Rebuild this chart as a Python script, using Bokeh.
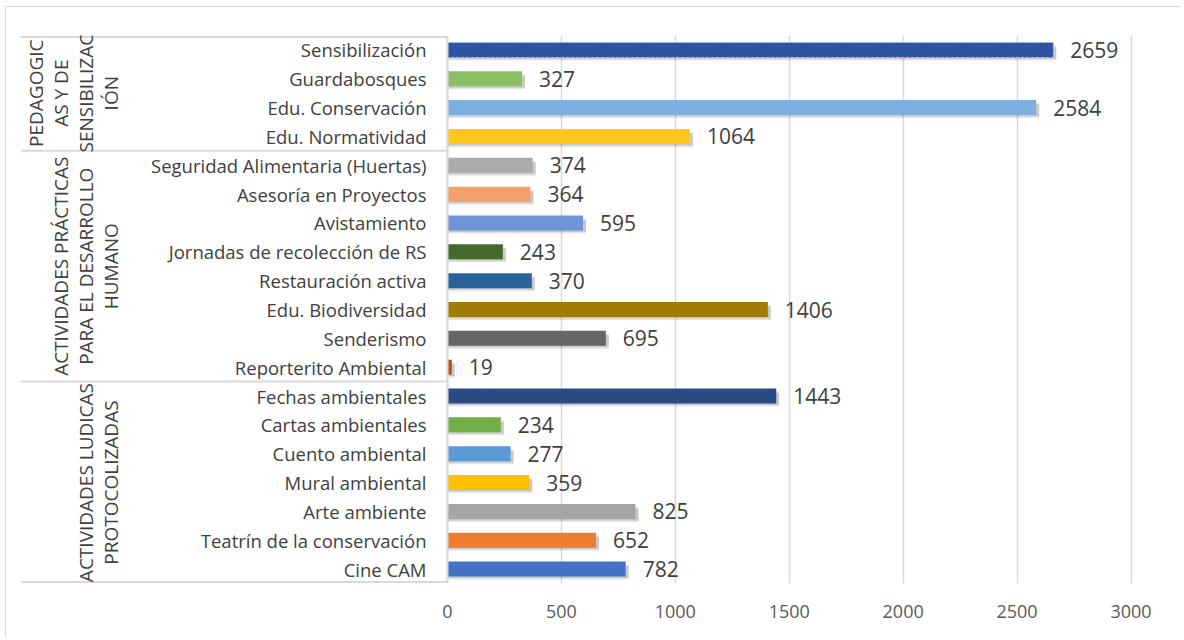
from bokeh.plotting import figure
from bokeh.models import Range1d, FixedTicker, ColumnDataSource, PrintfTickFormatter
from bokeh.core.properties import value
from bokeh.embed import file_html
from bokeh.resources import INLINE
import math

# ---- data (top to bottom) ----
categories = [
    "Sensibilización", "Guardabosques", "Edu. Conservación", "Edu. Normatividad",
    "Seguridad Alimentaria (Huertas)", "Asesoría en Proyectos", "Avistamiento",
    "Jornadas de recolección de RS", "Restauración activa", "Edu. Biodiversidad",
    "Senderismo", "Reporterito Ambiental",
    "Fechas ambientales", "Cartas ambientales", "Cuento ambiental", "Mural ambiental",
    "Arte ambiente", "Teatrín de la conservación", "Cine CAM",
]
values = [2659, 327, 2584, 1064, 374, 364, 595, 243, 370, 1406, 695, 19,
          1443, 234, 277, 359, 825, 652, 782]
colors = ["#2E54A1", "#8BC066", "#7DB0E0", "#FFC61E", "#ABABAB", "#F4A06B", "#6F94D8",
          "#446A2C", "#2A629A", "#A07B08", "#666666", "#B9501A",
          "#2A4A85", "#72AE48", "#5B9BD5", "#FFC000", "#A5A5A5", "#ED7D31", "#4472C4"]
groups = [
    "PEDAGOGIC\nAS Y DE\nSENSIBILIZAC\nIÓN",
    "ACTIVIDADES PRÁCTICAS\nPARA EL DESARROLLO\nHUMANO",
    "ACTIVIDADES LUDICAS\nPROTOCOLIZADAS",
]
group_sizes = [4, 8, 7]
x_ticks = [0, 500, 1000, 1500, 2000, 2500, 3000]

# ---- layout helpers ----
n = len(categories)
rows = [n - 1 - i for i in range(n)]          # top row has highest y
px = 683.5 / 3000.0                            # pixels per unit
x_start = -427 / px
x_end = 735 / px

FONT = value("Open Sans")
TXT = "#404040"
GRID = "#D9D9D9"

p = figure(width=1176, height=632, output_backend="svg", toolbar_location=None,
           x_range=Range1d(x_start, x_end), y_range=Range1d(-0.5, n - 0.5),
           y_axis_type=None, min_border_left=14, min_border_right=0,
           min_border_top=28, min_border_bottom=56)
p.outline_line_color = None
p.background_fill_color = "white"
p.border_fill_color = "white"
p.styles = {"border-left": "1px solid #D9D9D9", "border-top": "1px solid #D9D9D9",
            "margin-left": "5px", "margin-top": "6px"}

# x axis
p.xaxis.ticker = FixedTicker(ticks=x_ticks)
p.xaxis.formatter = PrintfTickFormatter(format="%d")
p.xaxis.axis_line_color = None
p.xaxis.major_tick_line_color = None
p.xaxis.minor_tick_line_color = None
p.xaxis.major_tick_in = 0
p.xaxis.major_tick_out = 0
p.xaxis.major_label_standoff = 21
p.xaxis.major_label_text_font = "Open Sans"
p.xaxis.major_label_text_font_size = "18px"
p.xaxis.major_label_text_color = "#595959"
p.xgrid.ticker = FixedTicker(ticks=x_ticks)
p.xgrid.grid_line_color = GRID
p.xgrid.grid_line_width = 1.5
p.ygrid.grid_line_color = None

src = ColumnDataSource(dict(
    y=rows, v=values, c=colors, cat=categories,
    lab=[str(v) for v in values],
    shadow_r=[v + 3 / px for v in values],
    lab_x=[v + 17 / px for v in values],
    y_sh=[r - 3 / 28.83 for r in rows],
))

bar_h = 15 / 28.83
# shadows
p.hbar(y="y_sh", left=0, right="shadow_r", height=bar_h, source=src,
       fill_color="#000000", fill_alpha=0.10, line_color=None)
p.hbar(y="y_sh", left=0, right="shadow_r", height=bar_h * 0.8, source=src,
       fill_color="#000000", fill_alpha=0.12, line_color=None)
# bars
p.hbar(y="y", left=0, right="v", height=bar_h, source=src,
       fill_color="c", line_color=None)
# selected-bar dashed outline (first bar)
sel = ColumnDataSource(dict(y=[rows[0]], v=[values[0]]))
p.hbar(y="y", left=0, right="v", height=bar_h, source=sel,
       fill_color=None, line_color="#A9C4EB", line_dash="3 2", line_width=1)

# value labels
p.text(x="lab_x", y="y", text="lab", source=src, text_font=FONT,
       text_font_size="21px", text_color=TXT, text_align="left",
       text_baseline="middle")

# category labels
p.text(x=-21 / px, y="y", text="cat", source=src, text_font=FONT,
       text_font_size="18.5px", text_color=TXT, text_align="right",
       text_baseline="middle")

# group separators and group labels
top = n - 0.55
bounds = [top]
acc = 0
for s in group_sizes:
    acc += s
    bounds.append(n - 0.5 - acc)
bounds[-1] = -0.45
p.segment(x0=[x_start] * len(bounds), x1=[0] * len(bounds), y0=bounds, y1=bounds,
          line_color=GRID, line_width=2)
p.segment(x0=[0], x1=[0], y0=[-0.45], y1=[top], line_color=GRID, line_width=2)

gy = []
acc = 0
for s in group_sizes:
    gy.append(n - 1 - acc - (s - 1) / 2)
    acc += s
p.text(x=[-323 / px] * len(groups), y=gy, text=groups, angle=math.pi / 2,
       text_font=FONT, text_font_size="19px", text_color=TXT,
       text_align="center", text_baseline="bottom", text_line_height=0.97)

open("out.html", "w").write(file_html(p, INLINE))
